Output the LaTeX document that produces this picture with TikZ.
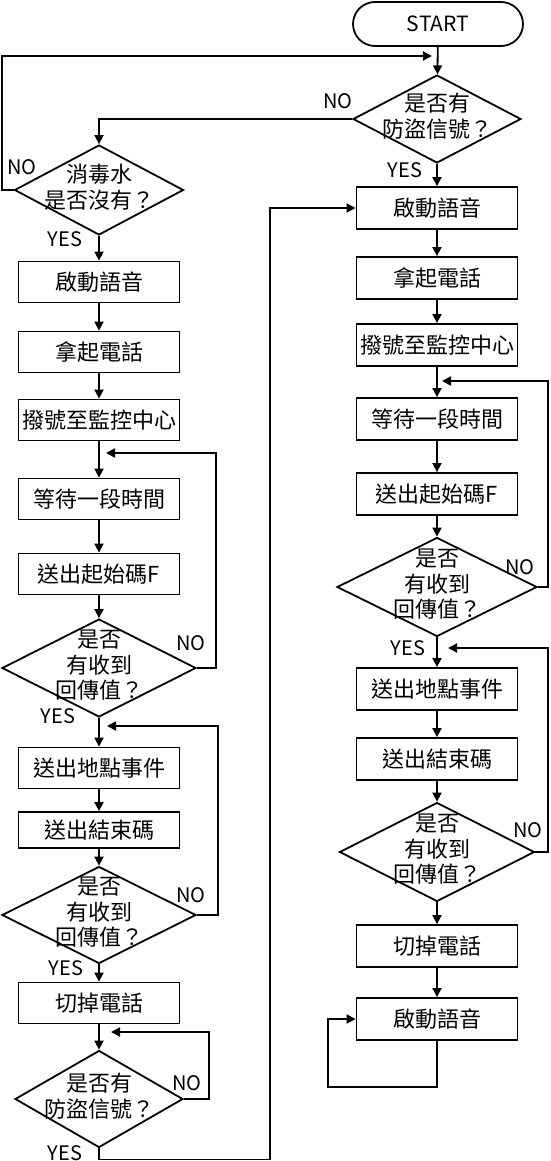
\documentclass[tikz,border=0pt]{standalone}
\usepackage{fontspec}
\setmainfont{Noto Sans CJK TC}
\usetikzlibrary{shapes.geometric,arrows.meta}
% text of a decision box, takes no room of its own
\newcommand{\dtext}[1]{\makebox[0pt]{\smash{\raisebox{-5pt}{\begin{tabular}{@{}c@{}}#1\end{tabular}}}}}

\begin{document}
\begin{tikzpicture}[x=1pt,y=-1pt,>={Triangle[length=9pt,width=9pt]}]
        \tikzstyle{terminal}=[rectangle,rounded corners=22pt,draw=black,line width=1.8pt,minimum width=170pt,minimum height=44pt,font=\fontsize{21}{24}\selectfont]
        \tikzstyle{process}=[rectangle,draw=black,line width=1.8pt,minimum width=161pt,minimum height=41pt,inner sep=2pt,font=\fontsize{22}{24}\selectfont]
        \tikzstyle{decision}=[diamond,draw=black,line width=1.8pt,inner sep=0pt,font=\fontsize{22}{24}\selectfont]
        \tikzstyle{answer}=[inner sep=0pt,font=\fontsize{20}{22}\selectfont]
        \tikzstyle{edge}=[draw=black,line width=1.8pt,->]

        \useasboundingbox (0,0) rectangle (550,1161);

       \begin{scope}
         % right column
         \node [terminal] (start) at (438,24) {START};
         \node [decision,minimum width=168pt,minimum height=88pt] (rd1) at (437,119) {\dtext{是否有\\防盜信號？}};
         \node [process,minimum height=42pt] (rb1) at (437,208) {啟動語音};
         \node [process,minimum height=42pt] (rb2) at (437,278) {拿起電話};
         \node [process,minimum height=42pt] (rb3) at (437,345) {撥號至監控中心};
         \node [process,minimum height=42pt] (rb4) at (437,419) {等待一段時間};
         \node [process,minimum height=42pt] (rb5) at (437,494) {送出起始碼F};
         \node [decision,minimum width=200pt,minimum height=99pt] (rd2) at (437,587) {\dtext{是否\\有收到\\回傳值？}};
         \node [process,minimum height=42pt] (rb6) at (437,689) {送出地點事件};
         \node [process,minimum height=42pt] (rb7) at (437,759) {送出結束碼};
         \node [decision,minimum width=195pt,minimum height=99pt] (rd3) at (437,852) {\dtext{是否\\有收到\\回傳值？}};
         \node [process,minimum height=42pt] (rb8) at (437,946) {切掉電話};
         \node [process,minimum height=42pt] (rb9) at (437,1019) {啟動語音};

         % left column
         \node [decision,minimum width=169pt,minimum height=90pt] (ld1) at (99,190) {\dtext{消毒水\\是否沒有？}};
         \node [process] (lb1) at (99,282) {啟動語音};
         \node [process] (lb2) at (99,352) {拿起電話};
         \node [process] (lb3) at (99,420) {撥號至監控中心};
         \node [process] (lb4) at (99,499) {等待一段時間};
         \node [process] (lb5) at (99,574) {送出起始碼F};
         \node [decision,minimum width=194pt,minimum height=98pt] (ld2) at (99,668) {\dtext{是否\\有收到\\回傳值？}};
         \node [process] (lb6) at (99,768) {送出地點事件};
         \node [process,minimum height=36pt] (lb7) at (99,830) {送出結束碼};
         \node [decision,minimum width=194pt,minimum height=97pt] (ld3) at (99,915) {\dtext{是否\\有收到\\回傳值？}};
         \node [process] (lb8) at (99,1003) {切掉電話};
         \node [decision,minimum width=168pt,minimum height=97pt] (ld4) at (99,1099) {\dtext{是否有\\防盜信號？}};

         % yes / no
         \node [answer] (rno1) at (338,101) {NO};
         \node [answer] (ryes1) at (405,170) {YES};
         \node [answer] (rno2) at (520,567) {NO};
         \node [answer] (ryes2) at (408,648) {YES};
         \node [answer] (rno3) at (528,830) {NO};
         \node [answer] (lno1) at (22,167) {NO};
         \node [answer] (lyes1) at (65,239) {YES};
         \node [answer] (lno2) at (191,643) {NO};
         \node [answer] (lyes2) at (58,716) {YES};
         \node [answer] (lno3) at (191,895) {NO};
         \node [answer] (lyes3) at (66,968) {YES};
         \node [answer] (lno4) at (187,1083) {NO};
         \node [answer] (lyes4) at (65,1153) {YES};

         % turning points
         \coordinate (topin) at (432,56);
         \coordinate (nw) at (2,56);
         \coordinate (lc1) at (216,453);
         \coordinate (lr1) at (106,453);
         \coordinate (lc2) at (218,726);
         \coordinate (lr2) at (107,726);
         \coordinate (lc3) at (209,1032);
         \coordinate (lr3) at (111,1032);
         \coordinate (lc4) at (270,208);
         \coordinate (rc1) at (548,381);
         \coordinate (rr1) at (442,381);
         \coordinate (rc2) at (548,648);
         \coordinate (rr2) at (448,648);
         \coordinate (rc3) at (328,1019);

         \path[edge] (start) edge (rd1);
         \path[edge] (rd1) edge (rb1);
         \path[edge] (rb1) edge (rb2);
         \path[edge] (rb2) edge (rb3);
         \path[edge] (rb3) edge (rb4);
         \path[edge] (rb4) edge (rb5);
         \path[edge] (rb5) edge (rd2);
         \path[edge] (rd2) edge (rb6);
         \path[edge] (rb6) edge (rb7);
         \path[edge] (rb7) edge (rd3);
         \path[edge] (rd3) edge (rb8);
         \path[edge] (rb8) edge (rb9);

         \path[edge] (ld1) edge (lb1);
         \path[edge] (lb1) edge (lb2);
         \path[edge] (lb2) edge (lb3);
         \path[edge] (lb3) edge (lb4);
         \path[edge] (lb4) edge (lb5);
         \path[edge] (lb5) edge (ld2);
         \path[edge] (ld2) edge (lb6);
         \path[edge] (lb6) edge (lb7);
         \path[edge] (lb7) edge (ld3);
         \path[edge] (ld3) edge (lb8);
         \path[edge] (lb8) edge (ld4);

         \draw[edge] (rd1.west) -| (ld1.north);
         \draw[edge] (ld1.west) -| (nw) -- (topin);
         \draw[edge] (ld2.east) -| (lc1) -- (lr1);
         \draw[edge] (ld3.east) -| (lc2) -- (lr2);
         \draw[edge] (ld4.east) -| (lc3) -- (lr3);
         \draw[edge] (ld4.south) -- ++(0,11) -| (lc4) -- (rb1.west);
         \draw[edge] (rd2.east) -| (rc1) -- (rr1);
         \draw[edge] (rd3.east) -| (rc2) -- (rr2);
         \draw[edge] (rb9.south) -- ++(0,46) -| (rc3) -- (rb9.west);

        \end{scope}
      \end{tikzpicture}
\end{document}
